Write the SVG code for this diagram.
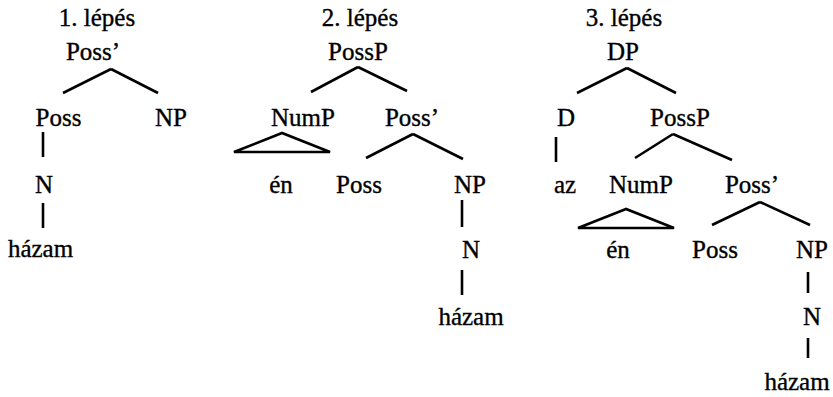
<svg xmlns="http://www.w3.org/2000/svg" width="833" height="397" viewBox="0 0 833 397">
<style>
text{font-family:"Liberation Serif","Times New Roman",serif;font-size:25px;fill:#000;stroke:#000;stroke-width:0.35;text-anchor:middle}
.e{stroke:#000;stroke-width:2.6;fill:none;stroke-linecap:butt;stroke-linejoin:miter}
</style>
<rect width="833" height="397" fill="#fff"/>
<g id="connectors">
<line class="e" x1="111" y1="69" x2="63" y2="93"/>
<line class="e" x1="111" y1="69" x2="158" y2="93"/>
<line class="e" x1="43" y1="132" x2="43" y2="157"/>
<line class="e" x1="43" y1="203" x2="43" y2="228"/>
<line class="e" x1="358" y1="67" x2="311" y2="92"/>
<line class="e" x1="358" y1="67" x2="407" y2="91"/>
<polygon class="e" points="282,133 234,152 330,152"/>
<line class="e" x1="413" y1="134" x2="366" y2="158"/>
<line class="e" x1="413" y1="134" x2="463" y2="159"/>
<line class="e" x1="462" y1="200" x2="462" y2="227"/>
<line class="e" x1="462" y1="270" x2="462" y2="295"/>
<line class="e" x1="627" y1="68" x2="577" y2="93"/>
<line class="e" x1="627" y1="68" x2="676" y2="93"/>
<line class="e" x1="556" y1="137" x2="556" y2="162"/>
<line class="e" x1="673" y1="134" x2="635" y2="158"/>
<line class="e" x1="673" y1="134" x2="732" y2="160"/>
<polygon class="e" points="626,209 578,228 674,228"/>
<line class="e" x1="760" y1="202" x2="712" y2="225"/>
<line class="e" x1="760" y1="202" x2="810" y2="225"/>
<line class="e" x1="808" y1="272" x2="808" y2="293"/>
<line class="e" x1="808" y1="338" x2="808" y2="358"/>
</g>
<g id="t1-title"><text x="97" y="26">1. lépés</text></g>
<g id="t1-possbar"><text x="93" y="60">Poss’</text></g>
<g id="t1-poss"><text x="58.5" y="126">Poss</text></g>
<g id="t1-np"><text x="171" y="126">NP</text></g>
<g id="t1-n"><text x="44" y="193">N</text></g>
<g id="t1-hazam"><text x="40.5" y="257">házam</text></g>
<g id="t2-title"><text x="360" y="26">2. lépés</text></g>
<g id="t2-possp"><text x="358" y="60">PossP</text></g>
<g id="t2-nump"><text x="303" y="126">NumP</text></g>
<g id="t2-possbar"><text x="412" y="126">Poss’</text></g>
<g id="t2-en"><text x="281" y="193">én</text></g>
<g id="t2-poss"><text x="359" y="193">Poss</text></g>
<g id="t2-np"><text x="470" y="193">NP</text></g>
<g id="t2-n"><text x="471" y="258">N</text></g>
<g id="t2-hazam"><text x="471" y="325">házam</text></g>
<g id="t3-title"><text x="624" y="26">3. lépés</text></g>
<g id="t3-dp"><text x="623" y="60">DP</text></g>
<g id="t3-d"><text x="566" y="126">D</text></g>
<g id="t3-possp"><text x="680" y="126">PossP</text></g>
<g id="t3-az"><text x="565" y="193">az</text></g>
<g id="t3-nump"><text x="641" y="193">NumP</text></g>
<g id="t3-possbar"><text x="752" y="193">Poss’</text></g>
<g id="t3-en"><text x="618" y="258">én</text></g>
<g id="t3-poss"><text x="715" y="258">Poss</text></g>
<g id="t3-np"><text x="812" y="258">NP</text></g>
<g id="t3-n"><text x="812" y="325">N</text></g>
<g id="t3-hazam"><text x="797" y="390">házam</text></g>
</svg>
